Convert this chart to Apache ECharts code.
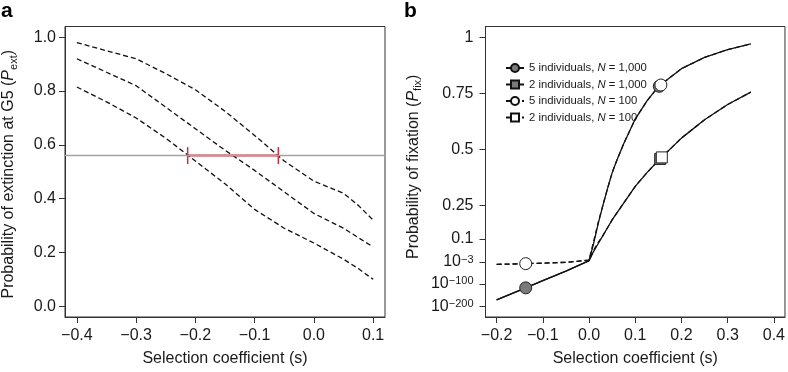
<!DOCTYPE html>
<html>
<head>
<meta charset="utf-8">
<script src="https://cdn.jsdelivr.net/npm/echarts@6/dist/echarts.min.js"></script>
<style>
  html, body { margin: 0; padding: 0; background: #fff; }
  #chartDiv { width: 788px; height: 372px; }
</style>
</head>
<body>
<div id="chartDiv"></div>
<script>
// panel a: extinction probability at G5
var sA = [-0.4, -0.35, -0.3, -0.25, -0.2, -0.15, -0.1, -0.05, 0, 0.05, 0.075, 0.1];
var extUpper = [0.98, 0.95, 0.92, 0.865, 0.805, 0.725, 0.635, 0.54, 0.465, 0.42, 0.375, 0.32];
var extMid   = [0.92, 0.87, 0.82, 0.74, 0.66, 0.58, 0.505, 0.425, 0.345, 0.29, 0.255, 0.22];
var extLower = [0.815, 0.76, 0.70, 0.625, 0.54, 0.455, 0.36, 0.29, 0.235, 0.175, 0.14, 0.10];
var extLevel = 0.56;
var sInterval = [-0.213, -0.06];
var xTicksA = [-0.4, -0.3, -0.2, -0.1, 0, 0.1];
var yTicksA = [0, 0.2, 0.4, 0.6, 0.8, 1.0];

// panel b: fixation probability, y in axis units (linear above 10^-3, log10(P)/1000 below)
var sB = [-0.2, -0.15, -0.1, -0.05, 0, 0.01, 0.02, 0.03, 0.04, 0.05, 0.06, 0.075, 0.1, 0.125, 0.15, 0.2, 0.25, 0.3, 0.35];
var fix5N1000 = [-0.172, -0.129, -0.086, -0.043, 0.004, 0.08, 0.17, 0.25, 0.325, 0.395, 0.45, 0.525, 0.635, 0.715, 0.78, 0.86, 0.91, 0.945, 0.97];
var fix2N1000 = [-0.172, -0.129, -0.086, -0.043, 0.002, 0.045, 0.08, 0.115, 0.15, 0.185, 0.215, 0.26, 0.335, 0.395, 0.45, 0.55, 0.632, 0.70, 0.755];
var fix5N100  = [-0.013, -0.011, -0.008, -0.004, 0.006, 0.09, 0.175, 0.25, 0.325, 0.395, 0.45, 0.525, 0.635, 0.715, 0.78, 0.86, 0.91, 0.945, 0.97];
var fix2N100  = [-0.013, -0.011, -0.008, -0.004, 0.005, 0.05, 0.085, 0.115, 0.15, 0.185, 0.215, 0.26, 0.335, 0.395, 0.45, 0.55, 0.632, 0.70, 0.755];
var ptsCircleFilled = [[-0.137, -0.118], [0.152, 0.781]];
var ptsSquareFilled = [[0.154, 0.457]];
var ptsCircleOpen   = [[-0.137, -0.010], [0.1555, 0.787]];
var ptsSquareOpen   = [[0.1575, 0.464]];
var xTicksB = [-0.2, -0.1, 0, 0.1, 0.2, 0.3, 0.4];
var yTicksB = [-0.2, -0.1, -0.003, 0.1, 0.25, 0.5, 0.75, 1];
var yLabelsB = ['{b|10}{p|−200}', '{b|10}{p|−100}', '{b|10}{p|−3}', '0.1', '0.25', '0.5', '0.75', '1'];
var seriesNames = ['5 individuals, N = 1,000', '2 individuals, N = 1,000', '5 individuals, N = 100', '2 individuals, N = 100'];

var FONT = '"Liberation Sans", Arial, Helvetica, sans-serif';
var INK = '#1a1a1a';

function pairs(xs, ys) {
  var out = [];
  for (var i = 0; i < xs.length; i++) out.push([xs[i], ys[i]]);
  return out;
}
function fmtS(v) {
  if (Math.abs(v) < 1e-9) return '0.0';
  return (v < 0 ? '−' : '') + Math.abs(v).toFixed(1);
}
function fmtFix(v) {
  for (var i = 0; i < yTicksB.length; i++) {
    if (Math.abs(yTicksB[i] - v) < 1e-6) return yLabelsB[i];
  }
  return '';
}

var axisLineStyle = { show: true, onZero: false, lineStyle: { color: '#333', width: 1 } };
var tickStyle = { show: true, length: 6, lineStyle: { color: '#333', width: 1 } };

function makeX(idx, min, max, ticks) {
  return {
    type: 'value', gridIndex: idx, min: min, max: max,
    axisLine: axisLineStyle,
    splitLine: { show: false },
    axisTick: Object.assign({}, tickStyle, { customValues: ticks }),
    axisLabel: { customValues: ticks, formatter: fmtS, margin: 11, fontSize: 16, color: INK, fontFamily: FONT },
    name: 'Selection coefficient (s)', nameLocation: 'middle', nameGap: 34,
    nameTextStyle: { fontSize: 16, color: INK, fontFamily: FONT }
  };
}
function titleRich() {
  return {
    t: { fontSize: 16, lineHeight: 20, color: INK, fontFamily: FONT },
    i: { fontSize: 16, lineHeight: 20, fontStyle: 'italic', color: INK, fontFamily: FONT },
    s: { fontSize: 11, lineHeight: 12, verticalAlign: 'bottom', color: INK, fontFamily: FONT }
  };
}

var dashed = { type: [5, 3], width: 1.3, color: '#111' };
var solid = { type: 'solid', width: 1.3, color: '#111' };

var option = {
  animation: false,
  backgroundColor: '#fff',
  textStyle: { fontFamily: FONT },
  grid: [
    { left: 64, top: 26.5, width: 321, height: 291.5, show: true, borderColor: '#333', borderWidth: 1 },
    { left: 485.5, top: 26.5, width: 301.5, height: 291.5, show: true, borderColor: '#333', borderWidth: 1 }
  ],
  xAxis: [
    makeX(0, -0.42, 0.12, xTicksA),
    makeX(1, -0.224, 0.424, xTicksB)
  ],
  yAxis: [
    {
      type: 'value', gridIndex: 0, min: -0.04, max: 1.04,
      axisLine: axisLineStyle, splitLine: { show: false },
      axisTick: Object.assign({}, tickStyle, { customValues: yTicksA }),
      axisLabel: { customValues: yTicksA, formatter: function (v) { return v.toFixed(1); }, margin: 9, fontSize: 16, color: INK, fontFamily: FONT },
      name: '{t|Probability of extinction at G5 (}{i|P}{s|ext}{t|)}', nameLocation: 'middle', nameRotate: 90, nameGap: 46,
      nameTextStyle: { color: INK, fontFamily: FONT, fontSize: 16, padding: [0, 5, 0, 0], rich: titleRich() }
    },
    {
      type: 'value', gridIndex: 1, min: -0.248, max: 1.048,
      axisLine: axisLineStyle, splitLine: { show: false },
      axisTick: Object.assign({}, tickStyle, { customValues: yTicksB }),
      axisLabel: {
        customValues: yTicksB, formatter: fmtFix, margin: 12, fontSize: 16, color: INK, fontFamily: FONT,
        rich: {
          b: { fontSize: 16, lineHeight: 16, verticalAlign: 'bottom', color: INK, fontFamily: FONT },
          p: { fontSize: 11, lineHeight: 11, verticalAlign: 'top', padding: [0, 0, 11, 0], color: INK, fontFamily: FONT }
        }
      },
      name: '{t|Probability of fixation (}{i|P}{s|fix}{t|)}', nameLocation: 'middle', nameRotate: 90, nameGap: 62,
      nameTextStyle: { color: INK, fontFamily: FONT, fontSize: 16, padding: [0, 0, 0, 10], rich: titleRich() }
    }
  ],
  legend: {
    data: seriesNames,
    orient: 'vertical', left: 500, top: 57,
    itemWidth: 18, itemHeight: 10, itemGap: 4.5,
    formatter: function (name) { return name.replace(' N ', ' {i|N} '); },
    textStyle: {
      fontSize: 11.3, lineHeight: 12, color: INK, fontFamily: FONT,
      rich: { i: { fontSize: 11.3, lineHeight: 12, fontStyle: 'italic', color: INK, fontFamily: FONT } }
    },
    selectedMode: false
  },
  graphic: [
    { type: 'text', left: 1, top: 1, style: { text: 'a', font: 'bold 21px ' + FONT, fill: '#000' } },
    { type: 'text', left: 404, top: 1, style: { text: 'b', font: 'bold 21px ' + FONT, fill: '#000' } }
  ],
  series: [
    {
      name: 'upper', type: 'line', xAxisIndex: 0, yAxisIndex: 0, data: pairs(sA, extUpper),
      symbol: 'none', lineStyle: dashed, z: 3,
      markLine: {
        silent: true, symbol: 'none', label: { show: false },
        lineStyle: { color: '#a3a3a3', type: 'solid', width: 1.3 },
        data: [{ yAxis: extLevel }]
      }
    },
    { name: 'mid', type: 'line', xAxisIndex: 0, yAxisIndex: 0, data: pairs(sA, extMid), symbol: 'none', lineStyle: dashed, z: 3 },
    { name: 'lower', type: 'line', xAxisIndex: 0, yAxisIndex: 0, data: pairs(sA, extLower), symbol: 'none', lineStyle: dashed, z: 3 },
    {
      name: 'interval', type: 'line', xAxisIndex: 0, yAxisIndex: 0,
      data: [[sInterval[0], extLevel], [sInterval[1], extLevel]],
      symbol: 'rect', symbolSize: [1.5, 17], showSymbol: true,
      itemStyle: { color: '#d02a3e' }, lineStyle: { color: '#d02a3e', width: 2 }, z: 4
    },

    {
      name: seriesNames[0], type: 'line', xAxisIndex: 1, yAxisIndex: 1, data: pairs(sB, fix5N1000),
      symbol: 'circle', showSymbol: false, lineStyle: solid,
      itemStyle: { color: '#7a7a7a', borderColor: '#111', borderWidth: 1 }, z: 3
    },
    {
      name: seriesNames[1], type: 'line', xAxisIndex: 1, yAxisIndex: 1, data: pairs(sB, fix2N1000),
      symbol: 'rect', showSymbol: false, lineStyle: solid,
      itemStyle: { color: '#7a7a7a', borderColor: '#111', borderWidth: 1 }, z: 3
    },
    {
      name: seriesNames[2], type: 'line', xAxisIndex: 1, yAxisIndex: 1, data: pairs(sB, fix5N100),
      symbol: 'circle', showSymbol: false, lineStyle: dashed,
      itemStyle: { color: '#fff', borderColor: '#111', borderWidth: 1 }, z: 3
    },
    {
      name: seriesNames[3], type: 'line', xAxisIndex: 1, yAxisIndex: 1, data: pairs(sB, fix2N100),
      symbol: 'rect', showSymbol: false, lineStyle: dashed,
      itemStyle: { color: '#fff', borderColor: '#111', borderWidth: 1 }, z: 3
    },
    {
      name: 'mk1', type: 'scatter', xAxisIndex: 1, yAxisIndex: 1, data: ptsCircleFilled,
      symbol: 'circle', symbolSize: 12, itemStyle: { color: '#7a7a7a', borderColor: '#222', borderWidth: 1, opacity: 1 }, z: 5
    },
    {
      name: 'mk2', type: 'scatter', xAxisIndex: 1, yAxisIndex: 1, data: ptsSquareFilled,
      symbol: 'rect', symbolSize: 11, itemStyle: { color: '#7a7a7a', borderColor: '#222', borderWidth: 1, opacity: 1 }, z: 5
    },
    {
      name: 'mk3', type: 'scatter', xAxisIndex: 1, yAxisIndex: 1, data: ptsCircleOpen,
      symbol: 'circle', symbolSize: 12, itemStyle: { color: '#fff', borderColor: '#222', borderWidth: 1, opacity: 1 }, z: 6
    },
    {
      name: 'mk4', type: 'scatter', xAxisIndex: 1, yAxisIndex: 1, data: ptsSquareOpen,
      symbol: 'rect', symbolSize: 11, itemStyle: { color: '#fff', borderColor: '#222', borderWidth: 1, opacity: 1 }, z: 6
    }
  ]
};

var myChart = echarts.init(document.getElementById('chartDiv'));
myChart.setOption(option, true);
</script>
</body>
</html>
